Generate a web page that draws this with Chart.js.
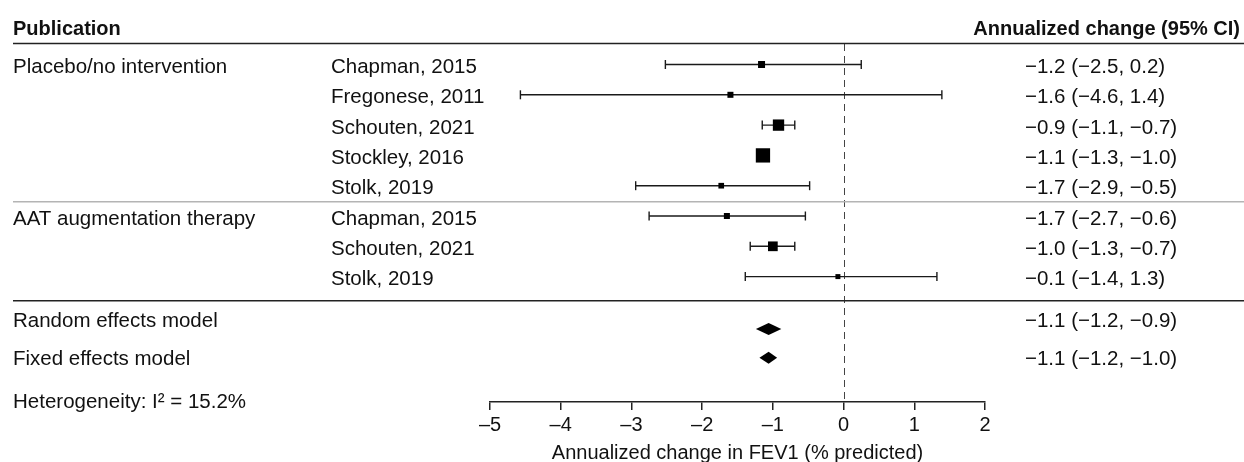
<!DOCTYPE html>
<html>
<head>
<meta charset="utf-8">
<script src="https://cdn.jsdelivr.net/npm/chart.js@4/dist/chart.umd.min.js"></script>
<style>
  body { margin: 0; background: #fff; }
  #wrap { width: 1244px; height: 462px; position: relative; }
</style>
</head>
<body>
<div id="wrap"><canvas id="forest"></canvas></div>
<script>
// **Data

let groupLabels = ['Placebo/no intervention', 'AAT augmentation therapy'];
let studyLabels = ['Chapman, 2015', 'Fregonese, 2011', 'Schouten, 2021', 'Stockley, 2016', 'Stolk, 2019',
  'Chapman, 2015', 'Schouten, 2021', 'Stolk, 2019'];
let studyGroup = [0, 0, 0, 0, 0, 1, 1, 1];
let estimates = [-1.16, -1.6, -0.92, -1.14, -1.73, -1.65, -1.0, -0.08];
let lowerCI = [-2.52, -4.57, -1.15, -1.22, -2.94, -2.75, -1.32, -1.39];
let upperCI = [0.25, 1.39, -0.69, -1.06, -0.48, -0.54, -0.69, 1.32];
let weights = [8.1, 6.0, 21.2, 33.8, 5.3, 6.0, 15.6, 4.1];
let ciLabels = ['\u22121.2 (\u22122.5, 0.2)', '\u22121.6 (\u22124.6, 1.4)', '\u22120.9 (\u22121.1, \u22120.7)',
  '\u22121.1 (\u22121.3, \u22121.0)', '\u22121.7 (\u22122.9, \u22120.5)', '\u22121.7 (\u22122.7, \u22120.6)',
  '\u22121.0 (\u22121.3, \u22120.7)', '\u22120.1 (\u22121.4, 1.3)'];

let summaryLabels = ['Random effects model', 'Fixed effects model'];
let summaryEst = [-1.06, -1.06];
let summaryLower = [-1.24, -1.19];
let summaryUpper = [-0.88, -0.94];
let summaryCiLabels = ['\u22121.1 (\u22121.2, \u22120.9)', '\u22121.1 (\u22121.2, \u22121.0)'];

let heterogeneityText = 'Heterogeneity: I\u00b2 = 15.2%';
let xMin = -5;
let xMax = 2;
let axisTitle = 'Annualized change in FEV1 (% predicted)';

// **Layout (row units on the y scale)

let summaryMarkRows = [8.73, 9.68];
let summaryTextRows = [8.4, 9.68];
let heteroRow = 11.1;
let greyRuleRow = 4.53;
let blackRuleRow = 7.8;

let fontFamily = '"Liberation Sans", Arial, Helvetica, sans-serif';
let ink = '#111';

Chart.defaults.font.family = fontFamily;
Chart.defaults.color = ink;

//helper: square side from weight
function boxSide(w){
  return 2.46 * Math.sqrt(w);
}

// datasets: squares first so they sit on top, then one line per CI
let datasets = [{
  label: 'estimates',
  data: estimates.map((v, i) => ({x: v, y: i})),
  pointStyle: 'rect',
  pointRadius: weights.map(w => boxSide(w) / (2 * Math.SQRT1_2)),
  pointBackgroundColor: '#000',
  pointBorderWidth: 0,
  showLine: false
}];

for (let i = 0; i < studyLabels.length; i++){
  datasets.push({
    label: 'ci' + i,
    data: [{x: lowerCI[i], y: i}, {x: upperCI[i], y: i}],
    showLine: true,
    borderColor: '#1a1a1a',
    borderWidth: 1.4,
    pointStyle: 'line',
    rotation: 90,
    pointRadius: 4.5,
    pointBorderColor: '#1a1a1a',
    pointBorderWidth: 1.4
  });
}

let forestDecor = {
  id: 'forestDecor',
  beforeDatasetsDraw(chart){
    let {ctx, chartArea, scales} = chart;
    let x = scales.x, y = scales.y;
    ctx.save();

    // zero line
    let x0 = Math.round(x.getPixelForValue(0)) + 0.5;
    ctx.strokeStyle = '#444';
    ctx.lineWidth = 1;
    ctx.setLineDash([7, 5]);
    ctx.beginPath();
    ctx.moveTo(x0, chartArea.top);
    ctx.lineTo(x0, chartArea.bottom - 3);
    ctx.stroke();
    ctx.setLineDash([]);

    // horizontal rules
    function rule(py, color){
      ctx.strokeStyle = color;
      ctx.lineWidth = 1.5;
      ctx.beginPath();
      ctx.moveTo(13, py);
      ctx.lineTo(chart.width, py);
      ctx.stroke();
    }
    rule(chartArea.top - 0.5, '#222');
    rule(y.getPixelForValue(greyRuleRow), '#b4b4b4');
    rule(y.getPixelForValue(blackRuleRow), '#222');
    ctx.restore();
  },
  afterDatasetsDraw(chart){
    let {ctx, scales} = chart;
    let x = scales.x, y = scales.y;
    ctx.save();

    // summary diamonds
    ctx.fillStyle = '#000';
    for (let i = 0; i < summaryEst.length; i++){
      let py = y.getPixelForValue(summaryMarkRows[i]);
      ctx.beginPath();
      ctx.moveTo(x.getPixelForValue(summaryLower[i]), py);
      ctx.lineTo(x.getPixelForValue(summaryEst[i]), py - 6);
      ctx.lineTo(x.getPixelForValue(summaryUpper[i]), py);
      ctx.lineTo(x.getPixelForValue(summaryEst[i]), py + 6);
      ctx.closePath();
      ctx.fill();
    }

    // text columns
    ctx.fillStyle = ink;
    ctx.textBaseline = 'middle';
    ctx.font = 'bold 20px ' + fontFamily;
    ctx.textAlign = 'left';
    ctx.fillText('Publication', 13, 29);
    ctx.textAlign = 'right';
    ctx.fillText('Annualized change (95% CI)', 1240, 29);

    ctx.font = '20.5px ' + fontFamily;
    ctx.textAlign = 'left';
    for (let i = 0; i < studyLabels.length; i++){
      let py = y.getPixelForValue(i) + 3;
      if (i === 0 || studyGroup[i] !== studyGroup[i - 1]){
        ctx.fillText(groupLabels[studyGroup[i]], 13, py);
      }
      ctx.fillText(studyLabels[i], 331, py);
      ctx.fillText(ciLabels[i], 1025, py);
    }
    for (let i = 0; i < summaryLabels.length; i++){
      let py = y.getPixelForValue(summaryTextRows[i]) + 2;
      ctx.fillText(summaryLabels[i], 13, py);
      ctx.fillText(summaryCiLabels[i], 1025, py);
    }
    ctx.fillText(heterogeneityText, 13, y.getPixelForValue(heteroRow) + 2);
    ctx.restore();
  }
};

let forestChart = new Chart(document.getElementById('forest'), {
  type: 'scatter',
  data: {datasets: datasets},
  options: {
    responsive: true,
    maintainAspectRatio: false,
    animation: false,
    clip: false,
    layout: {padding: {left: 490, right: 259, top: 44, bottom: -3}},
    plugins: {legend: {display: false}, tooltip: {enabled: false}},
    scales: {
      x: {
        type: 'linear',
        min: xMin,
        max: xMax,
        ticks: {
          stepSize: 1,
          color: ink,
          padding: 3,
          font: {size: 20},
          callback: v => String(v).replace('-', '\u2013')
        },
        grid: {drawOnChartArea: false, drawTicks: true, tickLength: 8, color: '#222', lineWidth: 1.5},
        border: {display: true, color: '#222', width: 1.5},
        title: {display: true, text: axisTitle, color: ink, font: {size: 20}, padding: {top: 1, bottom: 0}}
      },
      y: {
        type: 'linear',
        display: false,
        reverse: true,
        min: -0.677,
        max: 11.139
      }
    }
  },
  plugins: [forestDecor]
});
</script>
</body>
</html>
